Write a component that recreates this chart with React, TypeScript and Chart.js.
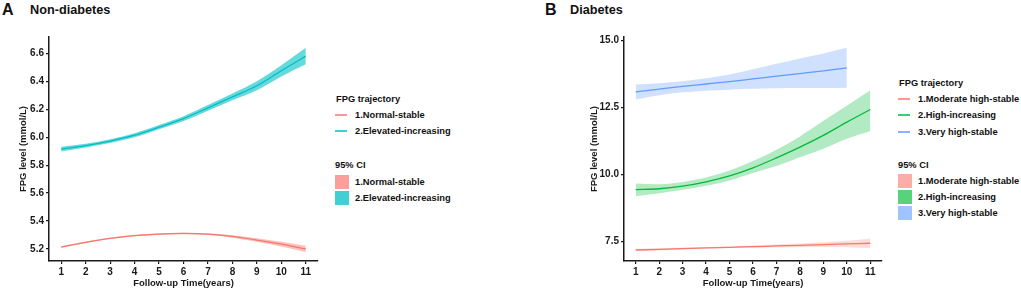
import React, { useEffect, useRef } from "react";
import { Chart, registerables } from "chart.js";

Chart.register(...registerables);

// ---------- Data ----------
const years = [1, 2, 3, 4, 5, 6, 7, 8, 9, 10, 11];
const yearsBlue = [1, 2, 3, 4, 5, 6, 7, 8, 9, 10];
const yTicksA = [5.2, 5.4, 5.6, 5.8, 6.0, 6.2, 6.4, 6.6];
const yTicksB = [7.5, 10.0, 12.5, 15.0];

// Panel A: Non-diabetes
const normalStable = [5.214, 5.248, 5.276, 5.296, 5.307, 5.311, 5.306, 5.29, 5.264, 5.234, 5.2];
const normalStableUpper = [5.22, 5.253, 5.281, 5.301, 5.312, 5.316, 5.312, 5.299, 5.277, 5.251, 5.223];
const normalStableLower = [5.208, 5.243, 5.271, 5.291, 5.302, 5.306, 5.3, 5.281, 5.251, 5.217, 5.177];
const elevatedIncreasing = [5.915, 5.94, 5.972, 6.014, 6.072, 6.133, 6.21, 6.288, 6.368, 6.475, 6.58];
const elevatedIncreasingUpper = [5.932, 5.953, 5.985, 6.028, 6.087, 6.15, 6.23, 6.312, 6.4, 6.515, 6.64];
const elevatedIncreasingLower = [5.898, 5.927, 5.959, 6.0, 6.057, 6.116, 6.19, 6.264, 6.336, 6.435, 6.522];

// Panel B: Diabetes
const moderateHighStable = [7.19, 7.215, 7.24, 7.265, 7.29, 7.315, 7.34, 7.365, 7.39, 7.415, 7.44];
const moderateHighStableUpper = [7.24, 7.255, 7.27, 7.295, 7.32, 7.355, 7.39, 7.435, 7.48, 7.535, 7.61];
const moderateHighStableLower = [7.14, 7.175, 7.21, 7.235, 7.26, 7.275, 7.29, 7.295, 7.3, 7.295, 7.26];
const highIncreasing = [9.44, 9.47, 9.57, 9.73, 9.95, 10.25, 10.62, 11.02, 11.46, 11.95, 12.42];
const highIncreasingUpper = [9.67, 9.64, 9.72, 9.89, 10.15, 10.5, 10.92, 11.42, 12.0, 12.56, 13.14];
const highIncreasingLower = [9.19, 9.3, 9.43, 9.58, 9.78, 10.06, 10.32, 10.64, 10.96, 11.33, 11.62];
const veryHighStable = [13.08, 13.18, 13.28, 13.37, 13.46, 13.56, 13.66, 13.76, 13.86, 13.97];
const veryHighStableUpper = [13.35, 13.4, 13.47, 13.58, 13.72, 13.92, 14.12, 14.32, 14.51, 14.72];
const veryHighStableLower = [12.79, 12.95, 13.06, 13.12, 13.16, 13.19, 13.21, 13.22, 13.22, 13.23];

const labelsA = ["1.Normal-stable", "2.Elevated-increasing"];
const labelsB = ["1.Moderate high-stable", "2.High-increasing", "3.Very high-stable"];

const RED = [248, 118, 109];
const TEAL = [0, 191, 196];
const GREEN = [0, 186, 56];
const BLUE = [97, 156, 255];

const rgba = (c: number[], a: number) => `rgba(${c[0]},${c[1]},${c[2]},${a})`;
const FONT = "'Liberation Sans', Arial, sans-serif";
const INK = "#1a1a1a";

const pts = (xs: number[], ys: number[]) => xs.map((x, i) => ({ x, y: ys[i] }));

function lineDs(label: string, xs: number[], ys: number[], color: number[]) {
  return {
    label,
    data: pts(xs, ys),
    borderColor: rgba(color, 1),
    borderWidth: 1.3,
    pointRadius: 0,
    fill: false,
    cubicInterpolationMode: "monotone",
    order: 0,
  };
}

function bandDs(label: string, xs: number[], up: number[], lo: number[], color: number[], alpha: number) {
  return [
    {
      label: label + " upper",
      data: pts(xs, up),
      borderWidth: 0,
      borderColor: "rgba(0,0,0,0)",
      backgroundColor: rgba(color, alpha),
      pointRadius: 0,
      fill: "+1",
      cubicInterpolationMode: "monotone",
      order: 1,
    },
    {
      label: label + " lower",
      data: pts(xs, lo),
      borderWidth: 0,
      borderColor: "rgba(0,0,0,0)",
      pointRadius: 0,
      fill: false,
      cubicInterpolationMode: "monotone",
      order: 1,
    },
  ];
}

function makeOptions(yMin: number, yMax: number, yTicks: number[], titlePad: number) {
  return {
    responsive: false,
    animation: false,
    devicePixelRatio: 1,
    layout: { padding: { top: 37, right: 12, left: 0, bottom: 0 } },
    plugins: { legend: { display: false }, tooltip: { enabled: false } },
    scales: {
      x: {
        type: "linear",
        min: 0.5,
        max: 11.5,
        afterFit: (s: any) => {
          s.height = 31;
        },
        afterBuildTicks: (s: any) => {
          s.ticks = years.map((v) => ({ value: v }));
        },
        ticks: {
          autoSkip: false,
          maxRotation: 0,
          padding: 2,
          color: INK,
          font: { family: FONT, size: 10, weight: "bold" },
          callback: (v: number) => String(v),
        },
        grid: { drawOnChartArea: false, drawTicks: true, tickLength: 3, color: INK, lineWidth: 1.2 },
        border: { display: true, color: INK, width: 1.5 },
        title: {
          display: true,
          text: "Follow-up Time(years)",
          color: INK,
          font: { family: FONT, size: 9.5, weight: "bold" },
          padding: { top: 0, bottom: 3 },
        },
      },
      y: {
        type: "linear",
        min: yMin,
        max: yMax,
        afterFit: (s: any) => {
          s.width = 49;
        },
        afterBuildTicks: (s: any) => {
          s.ticks = yTicks.map((v) => ({ value: v }));
        },
        ticks: {
          padding: 2,
          color: INK,
          font: { family: FONT, size: 10, weight: "bold" },
          callback: (v: number) => Number(v).toFixed(1),
        },
        grid: { drawOnChartArea: false, drawTicks: true, tickLength: 3, color: INK, lineWidth: 1.2 },
        border: { display: true, color: INK, width: 1.5 },
        title: {
          display: true,
          text: "FPG level (mmol/L)",
          color: INK,
          font: { family: FONT, size: 9.5, weight: "bold" },
          padding: { top: titlePad, bottom: 0 },
        },
      },
    },
  };
}

function ChartCanvas({ config, left, width }: { config: () => any; left: number; width: number }) {
  const ref = useRef<HTMLCanvasElement | null>(null);
  useEffect(() => {
    if (!ref.current) return;
    const chart = new Chart(ref.current, config());
    return () => chart.destroy();
  }, []);
  return (
    <canvas
      ref={ref}
      width={width}
      height={292}
      style={{ position: "absolute", left, top: 0, width, height: 292 }}
    />
  );
}

const txt: React.CSSProperties = {
  position: "absolute",
  fontFamily: FONT,
  fontWeight: "bold",
  fontSize: 9.3,
  color: "#111",
  lineHeight: "14px",
  whiteSpace: "nowrap",
};

function Legend({
  left,
  titleY,
  labels,
  colors,
  boxAlpha,
  ciTitleY,
}: {
  left: number;
  titleY: number;
  labels: string[];
  colors: number[][];
  boxAlpha: number[];
  ciTitleY: number;
}) {
  const items: React.ReactNode[] = [];
  items.push(
    <div key="t1" style={{ ...txt, left: left + 1, top: titleY - 7 }}>
      FPG trajectory
    </div>
  );
  labels.forEach((l, i) => {
    const cy = Math.round(titleY + 16 + i * 16.3);
    items.push(
      <div
        key={"l" + i}
        style={{ position: "absolute", left, top: cy - 1, width: 12, height: 2, background: rgba(colors[i], 0.75) }}
      />
    );
    items.push(
      <div key={"lt" + i} style={{ ...txt, left: left + 20, top: cy - 7 }}>
        {l}
      </div>
    );
  });
  items.push(
    <div key="t2" style={{ ...txt, left: left, top: ciTitleY - 7 }}>
      95% CI
    </div>
  );
  labels.forEach((l, i) => {
    const cy = Math.round(ciTitleY + 16.5 + i * 16.2);
    items.push(
      <div
        key={"b" + i}
        style={{
          position: "absolute",
          left: left,
          top: cy - 7,
          width: 14,
          height: 14,
          background: rgba(colors[i], boxAlpha[i]),
        }}
      />
    );
    items.push(
      <div key={"bt" + i} style={{ ...txt, left: left + 20, top: cy - 7 }}>
        {l}
      </div>
    );
  });
  return <>{items}</>;
}

export default function App() {
  const configA = () => ({
    type: "line",
    data: {
      datasets: [
        lineDs(labelsA[0], years, normalStable, RED),
        lineDs(labelsA[1], years, elevatedIncreasing, TEAL),
        ...bandDs(labelsA[0], years, normalStableUpper, normalStableLower, RED, 0.45),
        ...bandDs(labelsA[1], years, elevatedIncreasingUpper, elevatedIncreasingLower, TEAL, 0.6),
      ],
    },
    options: makeOptions(5.114, 6.717, yTicksA, 17.5),
  });
  const configB = () => ({
    type: "line",
    data: {
      datasets: [
        lineDs(labelsB[0], years, moderateHighStable, RED),
        lineDs(labelsB[1], years, highIncreasing, GREEN),
        lineDs(labelsB[2], yearsBlue, veryHighStable, BLUE),
        ...bandDs(labelsB[0], years, moderateHighStableUpper, moderateHighStableLower, RED, 0.25),
        ...bandDs(labelsB[1], years, highIncreasingUpper, highIncreasingLower, GREEN, 0.3),
        ...bandDs(labelsB[2], yearsBlue, veryHighStableUpper, veryHighStableLower, BLUE, 0.3),
      ],
    },
    options: makeOptions(6.78, 15.12, yTicksB, 14),
  });

  const titleBig: React.CSSProperties = {
    position: "absolute",
    fontFamily: FONT,
    fontWeight: "bold",
    fontSize: 16,
    lineHeight: "18px",
    color: "#111",
  };
  const titleSmall: React.CSSProperties = { ...titleBig, fontSize: 12.7 };

  return (
    <div
      style={{
        position: "absolute",
        left: 0,
        top: 0,
        width: 1021,
        height: 288,
        overflow: "hidden",
        background: "#fff",
      }}
    >
      <div style={{ ...titleBig, left: 2, top: 1 }}>A</div>
      <div style={{ ...titleSmall, left: 30, top: 1 }}>Non-diabetes</div>
      <div style={{ ...titleBig, left: 545, top: 1 }}>B</div>
      <div style={{ ...titleSmall, left: 570, top: 1 }}>Diabetes</div>

      <ChartCanvas config={configA} left={0} width={330} />
      <ChartCanvas config={configB} left={575} width={319} />

      <Legend
        left={335}
        titleY={99}
        labels={labelsA}
        colors={[RED, TEAL]}
        boxAlpha={[0.7, 0.75]}
        ciTitleY={165}
      />
      <Legend
        left={898}
        titleY={83}
        labels={labelsB}
        colors={[RED, GREEN, BLUE]}
        boxAlpha={[0.6, 0.65, 0.6]}
        ciTitleY={164.5}
      />
    </div>
  );
}
